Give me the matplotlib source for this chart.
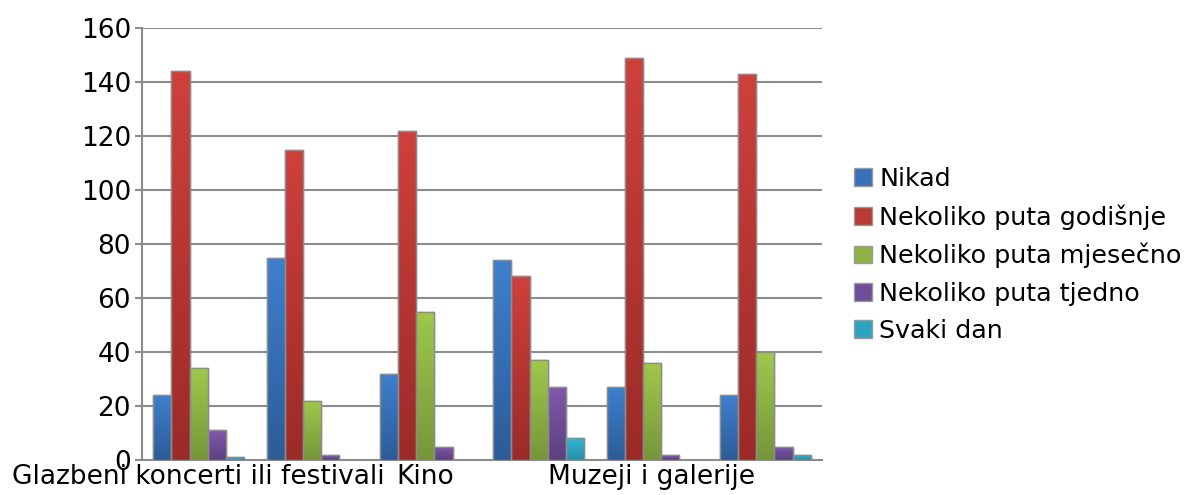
import matplotlib
matplotlib.use("Agg")
import matplotlib.pyplot as plt
import numpy as np
from matplotlib.colors import LinearSegmentedColormap

categories = ["Glazbeni koncerti ili festivali", "", "Kino", "", "Muzeji i galerije", ""]
series = ["Nikad", "Nekoliko puta godišnje", "Nekoliko puta mjesečno",
          "Nekoliko puta tjedno", "Svaki dan"]
nikad = [24, 75, 32, 74, 27, 24]
godisnje = [144, 115, 122, 68, 149, 143]
mjesecno = [34, 22, 55, 37, 36, 40]
tjedno = [11, 2, 5, 27, 2, 5]
svaki_dan = [1, 0, 0, 8, 0, 2]
values = [nikad, godisnje, mjesecno, tjedno, svaki_dan]

top_colors = ["#3F7FCC", "#CF403C", "#9FC84C", "#8159AA", "#35B5D4"]
bot_colors = ["#2C5C98", "#9A2B28", "#76963A", "#5B4080", "#2690A9"]
mid_colors = ["#3A70B5", "#BA3A36", "#8DB343", "#6E4E98", "#2EA3C0"]

fig = plt.figure(figsize=(11.94, 4.95), dpi=100)
ax = fig.add_axes([142/1194, 1-460/495, 680/1194, (460-28)/495])

x = np.arange(len(categories))
w = 0.16
for i, vals in enumerate(values):
    pos = x - 2*w + i*w
    bars = ax.bar(pos, vals, width=w, color=mid_colors[i], edgecolor="#8C8C8C",
                  linewidth=1.0, label=series[i], zorder=3)
    cmap = LinearSegmentedColormap.from_list("g%d" % i, [bot_colors[i], top_colors[i]])
    grad = np.linspace(0, 1, 100).reshape(-1, 1)
    for b in bars:
        h = b.get_height()
        if h <= 0:
            continue
        x0 = b.get_x(); x1 = x0 + b.get_width()
        im = ax.imshow(grad, extent=(x0, x1, 0, h), origin="lower", cmap=cmap,
                       aspect="auto", zorder=3.5)
        im.set_clip_path(b)
        ax.add_patch(plt.Rectangle((x0, 0), b.get_width(), h, fill=False,
                                   edgecolor="#8C8C8C", linewidth=1.0, zorder=4))

ax.set_xlim(-0.5, len(categories)-0.5)
ax.set_ylim(0, 160)
ax.set_yticks(np.arange(0, 161, 20))
ax.yaxis.grid(True, color="#8C8C8C", linewidth=1.5, zorder=0)
ax.set_axisbelow(True)
ax.set_xticks(x)
ax.set_xticklabels(categories, fontsize=19)
ax.tick_params(axis="x", length=0, pad=3)
ax.tick_params(axis="y", labelsize=19, length=5, color="#8C8C8C", width=1.5, pad=3)
for s in ["top", "right"]:
    ax.spines[s].set_visible(False)
for s in ["left", "bottom"]:
    ax.spines[s].set_color("#8C8C8C")
    ax.spines[s].set_linewidth(1.5)

handles, labels = ax.get_legend_handles_labels()
leg = fig.legend(handles, labels, loc="center left", bbox_to_anchor=(841/1194, 0.485),
                 fontsize=18.3, frameon=False, handlelength=0.7, handleheight=0.7,
                 handletextpad=0.3, labelspacing=0.52, borderpad=0)
for h in leg.legend_handles:
    h.set_edgecolor("#9A9A9A")

fig.savefig("out.png", dpi=100)
